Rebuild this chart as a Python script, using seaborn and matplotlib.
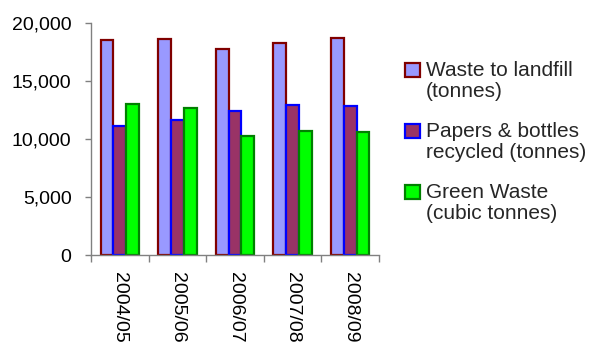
import matplotlib
matplotlib.use("Agg")
import matplotlib.pyplot as plt
import seaborn as sns
import pandas as pd
from matplotlib.ticker import FuncFormatter, FixedLocator

years = ["2004/05", "2005/06", "2006/07", "2007/08", "2008/09"]
series = ["Waste to landfill\n(tonnes)",
          "Papers & bottles\nrecycled (tonnes)",
          "Green Waste\n(cubic tonnes)"]
landfill = [18500, 18600, 17750, 18250, 18700]
papers = [11100, 11600, 12400, 12900, 12850]
green = [13000, 12700, 10300, 10700, 10600]
yticks = [0, 5000, 10000, 15000, 20000]

fills = ["#9999FF", "#993366", "#00FF00"]
edges = ["#800000", "#0000FF", "#008000"]

rows = []
for s, vals in zip(series, [landfill, papers, green]):
    for y, v in zip(years, vals):
        rows.append({"year": y, "series": s, "value": v})
df = pd.DataFrame(rows)

sns.set_theme(style="white")
plt.rcParams["font.family"] = ["Liberation Sans", "DejaVu Sans"]

fig = plt.figure(figsize=(5.94, 3.52), dpi=100)
ax = fig.add_axes([91 / 594, 1 - 255 / 352, (379 - 91) / 594, (255 - 23) / 352])

sns.barplot(data=df, x="year", y="value", hue="series", order=years,
            hue_order=series, palette=fills, width=0.67, gap=0,
            saturation=1, ax=ax, legend=False)

for cont, ec in zip(ax.containers, edges):
    for bar in cont:
        bar.set_edgecolor(ec)
        bar.set_linewidth(1.6)

ax.set_ylim(0, 20000)
ax.set_xlim(-0.5, len(years) - 0.5)
ax.set_xlabel("")
ax.set_ylabel("")
ax.set_yticks(yticks)
ax.yaxis.set_major_formatter(FuncFormatter(lambda v, p: f"{v:,.0f}"))
for side in ["top", "right"]:
    ax.spines[side].set_visible(False)
for side in ["left", "bottom"]:
    ax.spines[side].set_color("#808080")
    ax.spines[side].set_linewidth(1.0)

ax.tick_params(axis="y", which="major", direction="out", length=4, width=1,
               color="#808080", labelsize=14, labelcolor="black", pad=10, left=True)
ax.set_xticks(range(len(years)))
ax.set_xticklabels(years, rotation=-90)
ax.tick_params(axis="x", which="major", length=0, labelsize=14,
               labelcolor="black", pad=12)
ax.xaxis.set_minor_locator(FixedLocator([i - 0.5 for i in range(len(years) + 1)]))
ax.tick_params(axis="x", which="minor", direction="out", length=5, width=1,
               color="#808080", bottom=True)
for lab in ax.get_xticklabels():
    lab.set_va("top")
    lab.set_ha("center")

handles = [c.patches[0] for c in ax.containers]
fs = 15
leg = fig.legend(handles, series, loc="upper left",
                 bbox_to_anchor=(405 / 594, 1 - 61 / 352),
                 frameon=False, fontsize=fs, borderpad=0, borderaxespad=0,
                 handlelength=0.72, handletextpad=0.3, labelspacing=0.99)
for t in leg.get_texts():
    t.set_linespacing(1.15)
for p in leg.get_patches():
    p.set_bounds(0, 0.59 * fs - 0.3, 0.72 * fs, 0.66 * fs)
    p.set_linewidth(1.6)

fig.savefig("out.png", dpi=100)
